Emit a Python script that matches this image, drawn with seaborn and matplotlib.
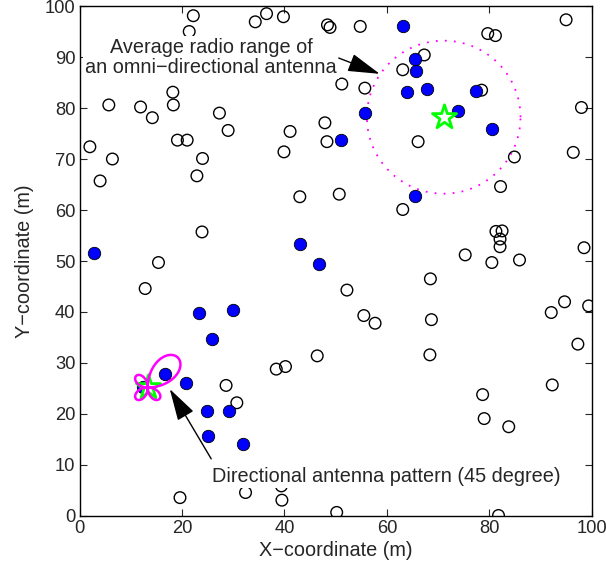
import numpy as np
import matplotlib
matplotlib.use("Agg")
import matplotlib.pyplot as plt
import seaborn as sns

# ---- data ----
open_x = [22.2, 21.4, 34.3, 36.5, 39.8, 48.4, 48.9, 18.2, 5.7, 11.9, 18.3, 14.2, 27.3, 29.0,
          47.9, 48.3, 41.1, 39.9, 2.0, 19.1, 21.0, 6.4, 24.0, 4.0, 22.9, 43.0, 50.7, 23.9,
          15.4, 54.8, 95.0, 79.7, 81.2, 67.3, 63.1, 55.7, 78.5, 98.0, 66.1, 96.4, 84.9,
          82.2, 63.1, 81.3, 82.5, 82.1, 82.1, 98.5, 75.3, 80.5, 85.9, 51.2, 12.8, 46.4,
          38.4, 40.2, 28.6, 30.7, 19.6, 32.4, 39.5, 39.4, 50.2, 52.2, 68.5, 55.5, 57.7,
          68.7, 68.4, 92.1, 94.7, 99.4, 97.3, 92.3, 78.7, 79.0, 83.8, 81.8]
open_y = [98.1, 95.0, 96.9, 98.5, 97.9, 96.3, 95.8, 83.1, 80.6, 80.2, 80.6, 78.1, 79.0, 75.6,
          77.1, 73.4, 75.4, 71.4, 72.4, 73.7, 73.7, 70.0, 70.1, 65.7, 66.7, 62.6, 63.1, 55.7,
          49.7, 96.0, 97.3, 94.6, 94.2, 90.4, 87.5, 83.9, 83.5, 80.1, 73.4, 71.3, 70.4,
          64.6, 60.1, 55.8, 55.9, 54.3, 52.8, 52.6, 51.2, 49.7, 50.2, 84.7, 44.6, 31.4,
          28.8, 29.3, 25.6, 22.2, 3.6, 4.6, 3.1, 5.9, 0.7, 44.3, 46.5, 39.3, 37.8,
          38.5, 31.6, 39.9, 42.0, 41.2, 33.7, 25.7, 23.8, 19.1, 17.5, 0.1]

sel_x = [51.0, 2.9, 43.0, 46.7, 63.1, 65.5, 65.6, 63.9, 67.9, 77.5, 73.9, 55.8, 80.6, 65.5,
         23.4, 30.0, 25.9, 16.7, 20.8, 24.9, 29.2, 25.1, 32.0, 12.4]
sel_y = [73.7, 51.6, 53.4, 49.5, 96.0, 89.7, 87.3, 83.1, 83.8, 83.4, 79.5, 79.0, 75.8, 62.7,
         39.9, 40.4, 34.7, 27.8, 26.1, 20.6, 20.6, 15.7, 14.1, 25.2]

star_x = [71.1, 13.3]
star_y = [78.2, 25.2]

omni_radius = 15.0
beam_deg = 45.0
main_lobe = 8.3
side_lobe = 3.2

x_ticks = [0, 20, 40, 60, 80, 100]
y_ticks = [0, 10, 20, 30, 40, 50, 60, 70, 80, 90, 100]

label_omni = "Average radio range of\nan omni\u2212directional antenna"
label_dir = "Directional antenna pattern (45 degree)"
x_label = "X\u2212coordinate (m)"
y_label = "Y\u2212coordinate (m)"

FS = 14.3
TFS = 13.2

# ---- style ----
sns.set_style("ticks")
plt.rcParams['font.family'] = ['Liberation Sans', 'DejaVu Sans']
plt.rcParams['font.size'] = FS

fig = plt.figure(figsize=(6.06, 5.73), dpi=100)
ax = fig.add_axes([0.1314, 0.0995, 0.8450, 0.8900])

sns.scatterplot(x=open_x, y=open_y, ax=ax, marker='o', s=70, facecolor='none',
                edgecolor='black', linewidth=1.0, zorder=3)
sns.scatterplot(x=sel_x, y=sel_y, ax=ax, marker='o', s=80, facecolor=(0, 0, 1),
                edgecolor='black', linewidth=0.6, zorder=4)

# omni-directional range circle
t = np.linspace(0, 2 * np.pi, 400)
ax.plot(star_x[0] + omni_radius * np.cos(t), star_y[0] + omni_radius * np.sin(t),
        color=(1, 0, 1), linestyle=(0, (1, 4)), linewidth=1.3, zorder=2)

# stars
sns.scatterplot(x=star_x, y=star_y, ax=ax, marker='*', s=330, facecolor='white',
                edgecolor=(0, 1, 0), linewidth=2.0, zorder=5)

# directional antenna pattern
th = np.linspace(0, 2 * np.pi, 1441)
phi = np.angle(np.exp(1j * (th - np.deg2rad(beam_deg))))
lobe = np.where(np.abs(phi) < np.pi / 4, main_lobe, side_lobe)
r = lobe * np.abs(np.cos(2 * phi))
ax.plot(star_x[1] + r * np.cos(th), star_y[1] + r * np.sin(th),
        color=(1, 0, 1), linewidth=1.8, zorder=6)

arrow = dict(arrowstyle="-|>,head_length=1.4,head_width=0.4", color='black',
             lw=1.0, shrinkA=0, shrinkB=0)
ax.text(25.7, 89.9, label_omni, ha='center', va='center', fontsize=FS, zorder=7,
        linespacing=1.05, bbox=dict(facecolor='white', edgecolor='none', pad=1.5))
ax.annotate("", xy=(58.6, 86.7), xytext=(50.6, 89.8), arrowprops=arrow, zorder=7)
ax.text(59.9, 7.8, label_dir, ha='center', va='center', fontsize=FS, zorder=7,
        bbox=dict(facecolor='white', edgecolor='none', pad=1.5))
ax.annotate("", xy=(17.6, 24.9), xytext=(25.7, 11.2), arrowprops=arrow, zorder=7)

ax.set_xlim(0, 100)
ax.set_ylim(0, 100)
ax.set_xticks(x_ticks)
ax.set_yticks(y_ticks)
ax.set_xlabel(x_label, fontsize=FS, labelpad=3)
ax.set_ylabel(y_label, fontsize=FS, labelpad=8)
ax.tick_params(direction='in', top=True, right=True, length=5, width=0.8,
               labelsize=TFS, pad=3)
for s in ax.spines.values():
    s.set_visible(True)
    s.set_linewidth(1.0)
    s.set_color('black')

fig.savefig("out.png", dpi=100)
